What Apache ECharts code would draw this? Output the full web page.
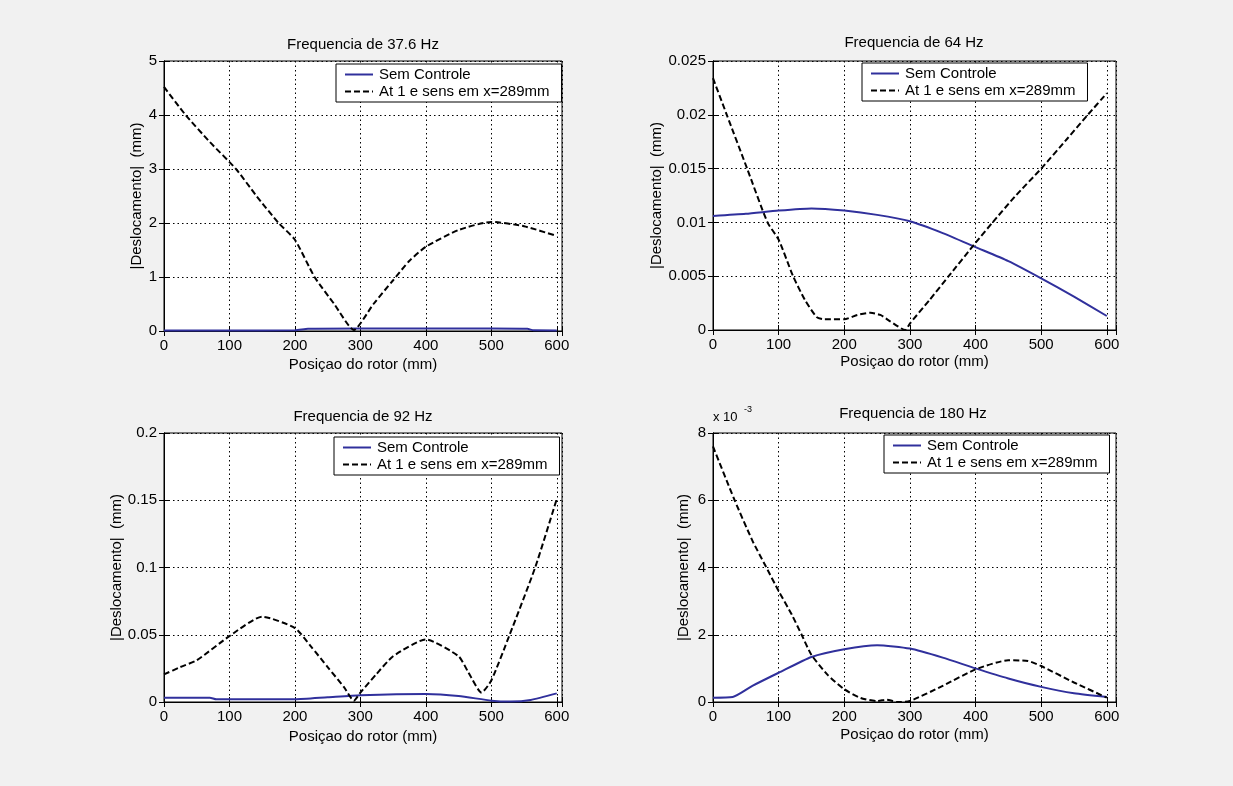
<!DOCTYPE html>
<html><head><meta charset="utf-8">
<script src="https://cdn.jsdelivr.net/npm/echarts@6/dist/echarts.min.js"></script>
<style>html,body{margin:0;padding:0;background:#f1f1f1}#c{width:1233px;height:786px}</style>
</head><body><div id="c"></div>
<script>
const FONT = '"Liberation Sans", Arial, sans-serif';
const titles = ['Frequencia de 37.6 Hz', 'Frequencia de 64 Hz', 'Frequencia de 92 Hz', 'Frequencia de 180 Hz'];
const seriesNames = ['Sem Controle', 'At 1 e sens em x=289mm'];
const xAxisName = 'Posiçao do rotor (mm)';
const yAxisName = '|Deslocamento|  (mm)';
const xTickLabels = ['0', '100', '200', '300', '400', '500', '600'];
const yMax = [5, 0.025, 0.2, 8];
const yStep = [1, 0.005, 0.05, 2];
const xMaxAxis = [608, 614, 608, 614];

// Panel 1 : 37.6 Hz
const p1SolidX = [0, 100, 200, 220, 300, 400, 500, 555, 565, 600];
const p1SolidY = [0.01, 0.01, 0.012, 0.04, 0.045, 0.045, 0.045, 0.04, 0.012, 0.01];
const p1DashX = [0, 33, 70, 110, 140, 175, 200, 230, 260, 290, 320, 350, 375, 400, 450, 500, 550, 600];
const p1DashY = [4.52, 4.0, 3.5, 3.0, 2.52, 2.0, 1.69, 1.0, 0.5, 0.02, 0.5, 0.94, 1.3, 1.56, 1.87, 2.02, 1.94, 1.76];

// Panel 2 : 64 Hz
const p2SolidX = [0, 50, 100, 150, 200, 250, 300, 350, 400, 450, 500, 550, 600];
const p2SolidY = [0.0106, 0.0108, 0.0111, 0.0113, 0.0111, 0.0107, 0.0101, 0.0090, 0.0077, 0.0064, 0.0048, 0.0031, 0.0013];
const p2DashX = [0, 21, 52, 83, 100, 122, 140, 158, 170, 200, 220, 240, 255, 270, 293, 300, 330, 359, 400, 426, 460, 500, 540, 571, 600];
const p2DashY = [0.0234, 0.020, 0.015, 0.010, 0.0084, 0.005, 0.0028, 0.0012, 0.001, 0.001, 0.0014, 0.0016, 0.0014, 0.0008, 0.0, 0.0006, 0.0028, 0.005, 0.0081, 0.010, 0.0124, 0.015, 0.0178, 0.020, 0.022];

// Panel 3 : 92 Hz
const p3SolidX = [0, 70, 80, 200, 250, 300, 400, 450, 500, 530, 560, 600];
const p3SolidY = [0.0032, 0.0032, 0.002, 0.002, 0.0035, 0.005, 0.006, 0.0045, 0.001, 0.0003, 0.0015, 0.0064];
const p3DashX = [0, 25, 50, 100, 150, 200, 225, 250, 275, 290, 300, 325, 350, 400, 450, 465, 485, 500, 528, 567, 600];
const p3DashY = [0.0205, 0.026, 0.031, 0.049, 0.0634, 0.055, 0.041, 0.026, 0.011, 0.001, 0.007, 0.021, 0.034, 0.0465, 0.034, 0.022, 0.007, 0.016, 0.05, 0.10, 0.151];

// Panel 4 : 180 Hz (values in units of 10^-3 mm)
const p4SolidX = [0, 30, 60, 100, 150, 200, 250, 300, 350, 400, 450, 500, 550, 600];
const p4SolidY = [0.13, 0.15, 0.48, 0.87, 1.34, 1.57, 1.69, 1.59, 1.32, 1.0, 0.70, 0.45, 0.26, 0.15];
const p4DashX = [0, 33, 60, 80, 100, 120, 135, 150, 175, 200, 225, 250, 265, 280, 300, 350, 400, 450, 480, 500, 550, 600];
const p4DashY = [7.6, 6.0, 4.8, 4.05, 3.3, 2.6, 2.0, 1.4, 0.8, 0.38, 0.12, 0.03, 0.07, 0.0, 0.03, 0.48, 0.97, 1.24, 1.22, 1.07, 0.58, 0.13];

const solidX = [p1SolidX, p2SolidX, p3SolidX, p4SolidX];
const solidY = [p1SolidY, p2SolidY, p3SolidY, p4SolidY];
const dashX = [p1DashX, p2DashX, p3DashX, p4DashX];
const dashY = [p1DashY, p2DashY, p3DashY, p4DashY];

// layout
const grids = [
  {left: 164, top: 61, width: 398, height: 270},
  {left: 713, top: 61, width: 403, height: 269},
  {left: 164, top: 433, width: 398, height: 269},
  {left: 713, top: 433, width: 403, height: 269}
];
const titlePos = [[363, 37], [914, 35], [363, 409], [913, 406]];
const legendPos = [[336, 64], [862, 63], [334, 437], [884, 435]];
const yNameGap = [18, 48, 39, 22];
const xNameGap = [26, 24, 27, 25];
const BLUE = '#30309c';

function pairs(xs, ys) { return xs.map((x, i) => [x, ys[i]]); }

const gridOpts = grids.map(g => Object.assign({show: true, backgroundColor: '#fff', borderColor: '#000', borderWidth: 1}, g));

const xAxes = [], yAxes = [];
for (let k = 0; k < 4; k++) {
  xAxes.push({
    type: 'value', gridIndex: k, min: 0, max: xMaxAxis[k], interval: 100,
    name: xAxisName, nameLocation: 'middle', nameGap: xNameGap[k],
    nameTextStyle: {fontFamily: FONT, fontSize: 15, color: '#000'},
    axisLine: {show: true, lineStyle: {color: '#000', width: 1}},
    axisTick: {show: true, inside: true, length: 5, lineStyle: {color: '#000'}},
    axisLabel: {fontFamily: FONT, fontSize: 15, color: '#000', margin: 7,
      formatter: v => (v % 100 === 0 ? xTickLabels[v / 100] : '')},
    splitLine: {show: true, lineStyle: {color: '#000', width: 1, type: [1.5, 3]}}
  });
  yAxes.push({
    type: 'value', gridIndex: k, min: 0, max: yMax[k], interval: yStep[k],
    name: yAxisName, nameLocation: 'middle', nameGap: yNameGap[k], nameRotate: 90,
    nameTextStyle: {fontFamily: FONT, fontSize: 15, color: '#000'},
    axisLine: {show: true, lineStyle: {color: '#000', width: 1}},
    axisTick: {show: true, inside: true, length: 5, lineStyle: {color: '#000'}},
    axisLabel: {fontFamily: FONT, fontSize: 15, color: '#000', margin: 7},
    splitLine: {show: true, lineStyle: {color: '#000', width: 1, type: [1.5, 3]}}
  });
}
for (let k = 0; k < 4; k++) {
  xAxes.push({
    type: 'value', gridIndex: k, position: 'top', min: 0, max: xMaxAxis[k], interval: 100,
    axisLine: {show: true, lineStyle: {color: '#000'}},
    axisTick: {show: true, inside: true, length: 5, lineStyle: {color: '#000'}},
    axisLabel: {show: false}, splitLine: {show: false}
  });
  yAxes.push({
    type: 'value', gridIndex: k, position: 'right', min: 0, max: yMax[k], interval: yStep[k],
    axisLine: {show: true, lineStyle: {color: '#000'}},
    axisTick: {show: true, inside: true, length: 5, lineStyle: {color: '#000'}},
    axisLabel: {show: false}, splitLine: {show: false}
  });
}

const series = [];
for (let k = 0; k < 4; k++) {
  series.push({
    name: seriesNames[0], type: 'line', xAxisIndex: k, yAxisIndex: k,
    data: pairs(solidX[k], solidY[k]), symbol: 'none', smooth: 0.2,
    lineStyle: {color: BLUE, width: 2}, itemStyle: {color: BLUE}, z: 3
  });
  series.push({
    name: seriesNames[1], type: 'line', xAxisIndex: k, yAxisIndex: k,
    data: pairs(dashX[k], dashY[k]), symbol: 'none', smooth: 0.2,
    lineStyle: {color: '#000', width: 2, type: [6, 3]}, itemStyle: {color: '#000'}, z: 4
  });
}

const legends = legendPos.map(p => ({
  data: seriesNames, orient: 'vertical', left: p[0], top: p[1],
  backgroundColor: '#fff', borderColor: '#000', borderWidth: 1,
  padding: [3, 12, 3, 8], itemGap: 2, itemWidth: 28, itemHeight: 14,
  itemStyle: {color: 'transparent', borderColor: 'transparent', borderWidth: 0, opacity: 0},
  textStyle: {fontFamily: FONT, fontSize: 15, color: '#000', padding: [0, 0, 0, 1]},
  selectedMode: false
}));

const titleOpts = titles.map((t, k) => ({
  text: t, left: titlePos[k][0], top: titlePos[k][1], textAlign: 'center', padding: 0,
  textStyle: {fontFamily: FONT, fontSize: 15, fontWeight: 'normal', color: '#000'}
}));

const chart = echarts.init(document.getElementById('c'), null, {renderer: 'canvas'});
chart.setOption({
  backgroundColor: '#f1f1f1',
  animation: false,
  title: titleOpts,
  legend: legends,
  grid: gridOpts,
  xAxis: xAxes,
  yAxis: yAxes,
  series: series,
  graphic: [
    {type: 'text', left: 713, top: 411, style: {text: 'x 10', font: '13px ' + FONT, fill: '#000'}},
    {type: 'text', left: 744, top: 405, style: {text: '-3', font: '9px ' + FONT, fill: '#000'}}
  ]
});
</script>
</body></html>
